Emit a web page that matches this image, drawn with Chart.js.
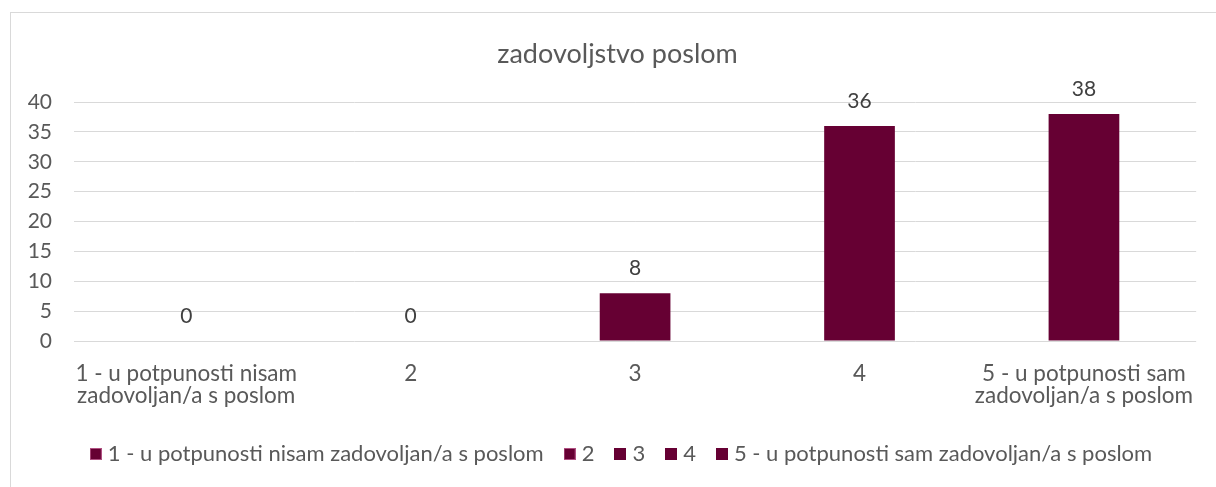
<!DOCTYPE html>
<html>
<head>
<meta charset="utf-8">
<script src="https://cdn.jsdelivr.net/npm/chart.js@4.4.1/dist/chart.umd.min.js"></script>
<style>
  html, body { margin: 0; padding: 0; background: #fff; }
</style>
</head>
<body>
<canvas id="chart" width="1216" height="487"></canvas>
<script>
// Podaci
const categories = [
    ['1 - u potpunosti nisam', 'zadovoljan/a s poslom'],
    '2',
    '3',
    '4',
    ['5 - u potpunosti sam', 'zadovoljan/a s poslom'],
];
const legendNames = [
    '1 - u potpunosti nisam zadovoljan/a s poslom',
    '2',
    '3',
    '4',
    '5 - u potpunosti sam zadovoljan/a s poslom',
];
const counts = [0, 0, 8, 36, 38];
const yMin = 0, yMax = 40, yStep = 5;

const BAR = '#660033';
const BAR_EDGE = '#b05082';
const TEXT = '#595959';
const GRID = '#d9d9d9';
const FONT = "Lato, 'Open Sans', sans-serif";

// Kvadratić za legendu (prva dva imaju svjetliji rub)
function legendSwatch(edge) {
    const c = document.createElement('canvas');
    c.width = 12;
    c.height = 12;
    const g = c.getContext('2d');
    g.fillStyle = edge ? BAR_EDGE : BAR;
    g.fillRect(0, 0, 12, 12);
    g.fillStyle = BAR;
    g.fillRect(1, 1, 10, 10);
    return c;
}

// Okvir grafikona i bijela pozadina
const framePlugin = {
    id: 'frame',
    beforeDraw(chart) {
        const { ctx } = chart;
        ctx.save();
        ctx.fillStyle = '#fff';
        ctx.fillRect(0, 0, chart.width, chart.height);
        ctx.strokeStyle = GRID;
        ctx.lineWidth = 1;
        ctx.strokeRect(10.5, 12.5, chart.width + 20, chart.height + 20);
        ctx.restore();
    },
};

// Pomak naslova i legende kao u Excelu
const shiftPlugin = {
    id: 'shift',
    afterLayout(chart) {
        chart.boxes.forEach((b) => {
            if (b === chart.legend) {
                b.left += 25; b.right += 25;
            } else if (b.position === 'top') {
                b.left += 19; b.right += 19;
            }
        });
    },
};

// Oznake vrijednosti iznad stupaca
const valueLabels = {
    id: 'valueLabels',
    afterDatasetsDraw(chart) {
        const { ctx } = chart;
        const meta = chart.getDatasetMeta(0);
        ctx.save();
        ctx.font = '21px ' + FONT;
        ctx.fillStyle = '#404040';
        ctx.textAlign = 'center';
        ctx.textBaseline = 'middle';
        meta.data.forEach((bar, i) => {
            ctx.fillText(String(counts[i]), bar.x, bar.y - 25);
        });
        ctx.restore();
    },
};

new Chart(document.getElementById('chart'), {
    type: 'bar',
    data: {
        labels: categories,
        datasets: [{
            label: 'zadovoljstvo poslom',
            data: counts,
            backgroundColor: BAR,
            borderWidth: 0,
            categoryPercentage: 1,
            barPercentage: 0.315,
        }],
    },
    options: {
        responsive: false,
        animation: false,
        events: [],
        layout: { padding: { left: 0, right: 19, top: 0, bottom: 12 } },
        plugins: {
            title: {
                display: true,
                text: 'zadovoljstvo poslom',
                color: TEXT,
                font: { family: FONT, size: 27, weight: 'normal', lineHeight: 1.2 },
                padding: { top: 38, bottom: 31.6 },
            },
            legend: {
                position: 'bottom',
                onClick: null,
                labels: {
                    color: TEXT,
                    font: { family: FONT, size: 22 },
                    usePointStyle: true,
                    boxWidth: 2,
                    boxHeight: 12,
                    padding: 25,
                    generateLabels: () => legendNames.map((t, i) => ({
                        text: t,
                        fillStyle: BAR,
                        strokeStyle: BAR,
                        lineWidth: 0,
                        pointStyle: legendSwatch(i < 2),
                        fontColor: TEXT,
                        hidden: false,
                        index: i,
                        datasetIndex: 0,
                    })),
                },
            },
            tooltip: { enabled: false },
        },
        scales: {
            x: {
                grid: { display: false, drawTicks: false },
                border: { display: false },
                ticks: {
                    color: TEXT,
                    font: { family: FONT, size: 22.5, lineHeight: 1.0 },
                    padding: 21,
                    maxRotation: 0,
                    autoSkip: false,
                },
                afterFit: (s) => { s.height = 77; },
            },
            y: {
                min: yMin,
                max: yMax,
                grid: { color: GRID, lineWidth: 1, drawTicks: false },
                border: { display: false },
                ticks: {
                    stepSize: yStep,
                    color: TEXT,
                    font: { family: FONT, size: 21 },
                    padding: 22,
                },
                afterFit: (s) => { s.width = 74; },
            },
        },
    },
    plugins: [framePlugin, shiftPlugin, valueLabels],
});
</script>
</body>
</html>
